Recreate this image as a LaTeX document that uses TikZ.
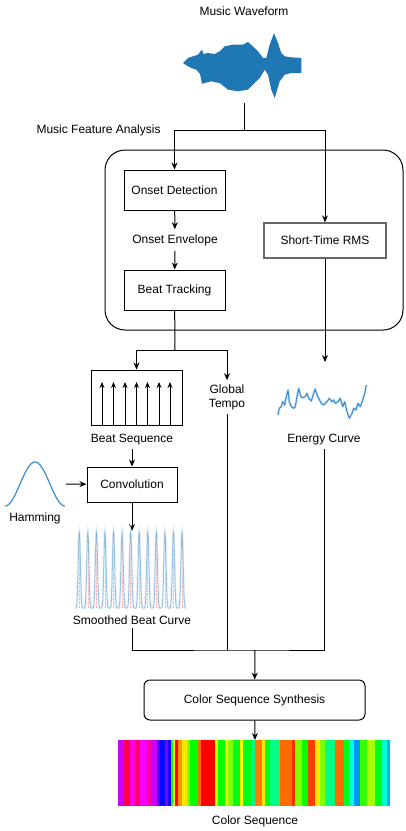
\documentclass[tikz,border=0pt]{standalone}
\usepackage{fontspec}
\setmainfont{Liberation Sans}
\usetikzlibrary{positioning,arrows.meta}
\definecolor{wave}{HTML}{1F77B4}
\definecolor{curve}{HTML}{3C8DD2}

\begin{document}
\begin{tikzpicture}[x=1pt,y=-1pt,
        font=\fontsize{12pt}{14pt}\selectfont,
        box/.style={draw, line width=1pt, minimum width=101pt, minimum height=40pt},
        wire/.style={line width=1pt},
        arr/.style={-{Stealth[length=7pt,width=6pt]}, line width=1pt}]
    \useasboundingbox (0,0) rectangle (406,831);

    % waveform
    \node (mw) at (244,11) {Music Waveform};
    \fill[wave] plot coordinates {(183,63) (188,58) (193,56.3) (198,54.7) (200,52) (202,49.7) (203.5,54)
        (208,53) (214.7,54) (219.7,51.3) (224.7,46.3) (233,44.7) (243,44.7) (248,42) (253,46.3)
        (258,51.3) (263,58) (266.3,58) (269.7,44.7) (274,33) (278,43) (281.3,53) (284.7,56.3)
        (291.3,57.3) (301.3,58) (301.3,73) (291.3,73) (284.7,74.7) (279.7,81.3) (274.7,98)
        (271.3,89.7) (268,74.7) (264.7,69.7) (259.7,78) (253,84.7) (248,89.7) (238,91.3)
        (228,89.7) (219.7,83) (211.3,81.3) (204.7,83) (202,84) (200,74) (196.3,69.7)
        (191.3,68) (186.3,65.3)} -- cycle;
    \coordinate (wb) at (244,103);
    \coordinate (s1) at (244,130);

    % feature analysis
    \node[anchor=west] (mfa) at (33,130) {Music Feature Analysis};
    \node[draw, line width=1pt, rounded corners=20pt, minimum width=298pt, minimum height=180pt] (fa) at (254,240) {};
    \node[box] (od) at (174.5,190) {Onset Detection};
    \node[inner sep=5pt] (env) at (175,240) {Onset Envelope};
    \node[box] (bt) at (174.5,290) {Beat Tracking};
    \node[box, draw=black!60, line width=1.3pt, minimum width=122pt, minimum height=35pt] (rms) at (325,240.5) {Short-Time RMS};

    \draw[wire] (wb) -- (s1);
    \draw[arr] (s1) -| (od);
    \draw[arr] (s1) -| (rms);
    \draw[arr] (od) -- (env);
    \draw[arr] (env) -- (bt);

    % beats and tempo
    \coordinate (s2) at (175,350);
    \node[draw, line width=1pt, minimum width=91pt, minimum height=55pt] (bs) at (136.5,397.5) {};
    \foreach \x in {102,113.5,125,136.5,147.5,159,170}
        \draw[-{Stealth[length=6pt,width=5pt]}, line width=0.9pt] (\x,425) -- (\x,382);
    \node (bsl) at (132,440) {Beat Sequence};
    \node[align=center, inner sep=4pt] (gt) at (227,397) {Global\\Tempo};

    \draw[wire] (bt) -- (s2);
    \draw[arr] (s2) -| (bs);
    \draw[arr] (s2) -| (gt);

    % convolution
    \node[box, minimum width=90pt, minimum height=35pt] (conv) at (132,484.5) {Convolution};
    \draw[curve, line width=1.2pt] plot[domain=0:1, samples=60] ({5+60*\x},{506-44*(0.5-0.5*cos(360*\x))});
    \node (ham) at (35,518) {Hamming};
    \coordinate (hr) at (66,484);
    \coordinate (sb) at (132,531);
    \draw[arr] (bsl) -- (conv);
    \draw[arr] (hr) -- (conv);
    \draw[arr] (conv) -- (sb);

    % smoothed beat curve
    \foreach \k in {0,...,12}{
        \pgfmathsetmacro\xo{79.3+8.56*\k}
        \draw[red!35, densely dotted, line width=0.6pt] (\xo,540) -- (\xo,608);
        \draw[curve!25, line width=2.2pt, opacity=0.6] plot[domain=-4.28:4.28, samples=31]
            ({\xo+\x},{608-76*(0.5+0.5*cos(360*\x/8.56))^3});
        \draw[wave, line width=0.5pt, opacity=0.55] plot[domain=-4.28:4.28, samples=31]
            ({\xo+\x},{608-76*(0.5+0.5*cos(360*\x/8.56))^3});
    }
    \node (sbl) at (132,620) {Smoothed Beat Curve};

    % energy
    \coordinate (et) at (325,362);
    \draw[arr] (rms) -- (et);
    \draw[curve!30, line width=2.6pt, line join=round, opacity=0.6] plot coordinates {(278,415) (279.3,408.3) (281.3,406.7)
        (282.7,401.7) (284.7,405) (286,398.3) (288,390) (289.3,401.7) (291.3,406.7) (293.7,408.3)
        (295.3,406.7) (297,396.7) (298.7,388.3) (300.3,395) (302,397.7) (305.3,396.7) (307,393.3)
        (308.7,398.3) (311.3,401) (313.7,393.3) (315.3,389) (317,395) (318.7,398.3) (321.3,403.3)
        (323.7,405) (327,401.7) (329.3,398.3) (332,401.7) (333.7,400) (335.3,403.3) (338,401.7)
        (340.3,398.3) (342.7,406.7) (344.7,401.7) (347,411.7) (349.3,418.3) (352,413.3) (353.7,408.3)
        (356,410) (358,403.3) (360.3,406.7) (362.7,400) (364.7,393.3) (366.3,385)};
    \draw[curve, line width=1.1pt, line join=round] plot coordinates {(278,415) (279.3,408.3) (281.3,406.7)
        (282.7,401.7) (284.7,405) (286,398.3) (288,390) (289.3,401.7) (291.3,406.7) (293.7,408.3)
        (295.3,406.7) (297,396.7) (298.7,388.3) (300.3,395) (302,397.7) (305.3,396.7) (307,393.3)
        (308.7,398.3) (311.3,401) (313.7,393.3) (315.3,389) (317,395) (318.7,398.3) (321.3,403.3)
        (323.7,405) (327,401.7) (329.3,398.3) (332,401.7) (333.7,400) (335.3,403.3) (338,401.7)
        (340.3,398.3) (342.7,406.7) (344.7,401.7) (347,411.7) (349.3,418.3) (352,413.3) (353.7,408.3)
        (356,410) (358,403.3) (360.3,406.7) (362.7,400) (364.7,393.3) (366.3,385)};
    \node (ecl) at (324,440) {Energy Curve};

    % synthesis
    \coordinate (j) at (255,650);
    \node[box, rounded corners=6pt, minimum width=221pt] (css) at (254.5,700) {Color Sequence Synthesis};
    \draw[wire] (sbl) |- (j) -| (ecl);
    \draw[wire] (gt) -- (gt |- j);
    \draw[arr] (j) -- (css);

    % color sequence
    \coordinate (cb) at (255,740);
    \draw[arr] (css) -- (cb);
    \foreach \a/\b/\h in {118/123/0.80, 123/130/0.95, 130/135/0.85, 135/140/0.93, 140/147/0.83,
        147/152/0.90, 152/157/0.80, 157/160/0.72, 160/165/0.66, 165/168/0.75, 168/171/0.68,
        171/173/0.35, 173/175/0.17, 175/178/0.0, 178/182/0.1, 182/187/0.15, 187/190/0.25,
        190/198/0.33, 198/201/0.07, 201/215/0.0, 215/218/0.2, 218/225/0.33, 225/228/0.15,
        228/233/0.25, 233/240/0.35, 240/243/0.17, 243/252/0.35, 252/255/0.42, 255/262/0.08,
        262/265/0.15, 265/270/0.35, 270/280/0.42, 280/292/0.07, 292/295/0.03, 295/302/0.25,
        302/308/0.33, 308/315/0.04, 315/320/0.15, 320/325/0.25, 325/335/0.42, 335/344/0.07,
        344/349/0.35, 349/354/0.48, 354/360/0.57, 360/367/0.3, 367/375/0.22, 375/382/0.35,
        382/387/0.47, 387/390/0.55}{
        \definecolor{stripe}{hsb}{\h,1,1}
        \fill[stripe] (\a,740) rectangle ({\b+0.4},806);
    }
    \node (csl) at (255,821) {Color Sequence};
\end{tikzpicture}
\end{document}
